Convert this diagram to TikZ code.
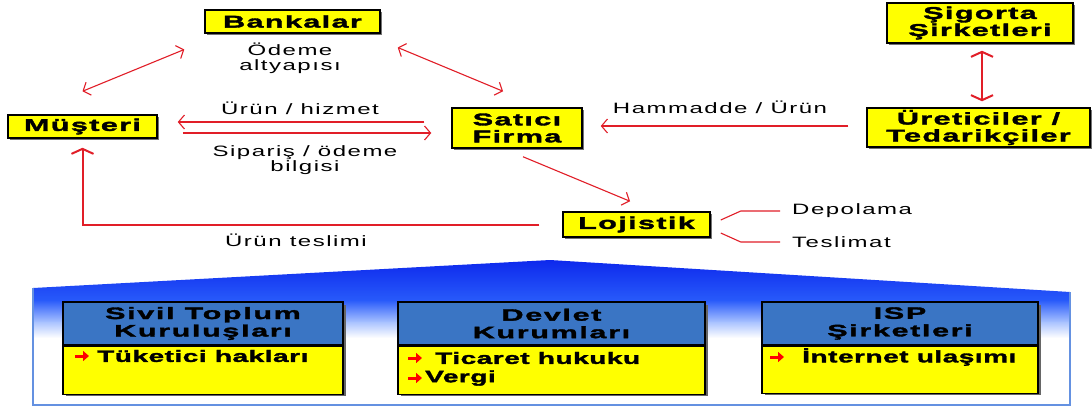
\documentclass[tikz,border=0pt]{standalone}
\usepackage{fontspec}
\usetikzlibrary{arrows.meta,shadows,calc}
\newfontfamily\boxfam{Liberation Sans}[UprightFont=* Bold,FakeStretch=1.8,LetterSpace=8,FakeBold=2]
\newfontfamily\botfam{Liberation Sans}[UprightFont=* Bold,FakeStretch=1.7,LetterSpace=3,FakeBold=2]
\newfontfamily\hdrfam{Liberation Sans}[UprightFont=* Bold,FakeStretch=1.85,LetterSpace=10,FakeBold=2]
\newfontfamily\lblfam{Liberation Sans}[FakeStretch=1.6,LetterSpace=10]
\definecolor{arrred}{RGB}{225,30,40}
\definecolor{boxyel}{RGB}{255,255,0}
\definecolor{hdrblue}{RGB}{58,117,196}
\definecolor{pdark}{RGB}{10,35,235}
\definecolor{pmid}{RGB}{40,90,250}
\definecolor{plight}{RGB}{170,195,255}
\definecolor{pborder}{RGB}{100,145,225}
\tikzset{
  ybox/.style={draw=black, line width=1.5pt, fill=boxyel, inner sep=0pt, align=center,
    font=\fontsize{17}{17}\boxfam,
    drop shadow={shadow xshift=2pt,shadow yshift=-2pt,fill=black!55,opacity=1}},
  lbl/.style={font=\fontsize{15}{15}\lblfam, align=center, inner sep=0pt, text=black},
  conn/.style={draw=arrred, line width=1.1pt},
  dbl/.style={conn, {Straight Barb[length=6pt,width=14pt]}-{Straight Barb[length=6pt,width=14pt]}},
  one/.style={conn, -{Straight Barb[length=6pt,width=14pt]}},
  thickone/.style={draw=arrred, line width=2pt, -{Straight Barb[length=5pt,width=22pt]}},
  thickdbl/.style={draw=arrred, line width=2pt, {Straight Barb[length=5pt,width=22pt]}-{Straight Barb[length=5pt,width=22pt]}},
  hdr/.style={draw=black, line width=1.5pt, fill=hdrblue, inner sep=0pt, align=center,
    font=\fontsize{16.5}{17.5}\hdrfam},
  body/.style={draw=black, line width=1.5pt, fill=boxyel, inner sep=0pt},
  item/.style={anchor=west, inner sep=0pt, font=\fontsize{16.5}{17}\botfam},
  bul/.style={draw=red, line width=3pt, -{Triangle[length=6pt,width=10pt]}},
  bshadow/.style={fill=black!60}
}
\begin{document}
\begin{tikzpicture}[x=1pt,y=-1pt]
\useasboundingbox (0,0) rectangle (1092,408);
\fill[white] (0,0) rectangle (1092,408);

% bottom panel
\fill[white] (33,288) -- (550,260) -- (1070,292) -- (1070,405) -- (33,405) -- cycle;
\begin{scope}
  \clip (33,288) -- (550,260) -- (1070,292) -- (1070,405) -- (33,405) -- cycle;
  \shade[top color=pdark,bottom color=pmid] (30,255) rectangle (1075,300.5);
  \shade[top color=pmid,bottom color=plight] (30,300) rectangle (1075,322.5);
  \shade[top color=plight,bottom color=white] (30,322) rectangle (1075,338);
\end{scope}
\draw[pborder, line width=1.2pt] (33,288) -- (33,405) -- (1070,405) -- (1070,292);

% bottom boxes
\fill[bshadow] (66,305) rectangle (346,396);
\fill[bshadow] (401,305) rectangle (708,396);
\fill[bshadow] (765,305) rectangle (1041,395);
\node[hdr, minimum width=280pt, minimum height=43pt] (sivh) at (203,323.5) {Sivil Toplum\\Kuruluşları};
\node[body, minimum width=280pt, minimum height=48pt, anchor=north] (sivb) at (sivh.south) {};
\node[hdr, minimum width=307pt, minimum height=43pt] (devh) at (551.5,323.5) {Devlet\\Kurumları};
\node[body, minimum width=307pt, minimum height=48pt, anchor=north] (devb) at (devh.south) {};
\node[hdr, minimum width=276pt, minimum height=43pt] (isph) at (900,323.5) {ISP\\Şirketleri};
\node[body, minimum width=276pt, minimum height=47pt, anchor=north] (ispb) at (isph.south) {};

\draw[bul] (75,356) -- (89,356);
\node[item] (siv1) at (97,356) {Tüketici hakları};
\draw[bul] (408,358) -- (422,358);
\node[item] (dev1) at (435,358) {Ticaret hukuku};
\draw[bul] (408,378) -- (422,378);
\node[item] (dev2) at (425,378) {Vergi};
\draw[bul] (770,357) -- (784,357);
\node[item] (isp1) at (802,357) {İnternet ulaşımı};

% top nodes
\node[ybox, minimum width=175pt, minimum height=23pt] (bank) at (292.5,21.5) {Bankalar};
\node[ybox, minimum width=149pt, minimum height=23pt] (must) at (82.5,126.5) {Müşteri};
\node[ybox, minimum width=130pt, minimum height=40pt] (sat) at (517,128) {Satıcı\\Firma};
\node[ybox, minimum width=186pt, minimum height=40pt] (sig) at (980,23) {Şigorta\\Şirketleri};
\node[ybox, minimum width=223pt, minimum height=39pt] (ure) at (978.5,127.5) {Üreticiler /\\Tedarikçiler};
\node[ybox, minimum width=147pt, minimum height=25pt] (loj) at (636.5,224.5) {Lojistik};

% labels
\node[lbl] (odeme) at (290,58) {Ödeme\\altyapısı};
\node[lbl] (urunh) at (300,108) {Ürün / hizmet};
\node[lbl] (sipar) at (305,160) {Sipariş / ödeme\\bilgisi};
\node[lbl] (hamm) at (720,107) {Hammadde / Ürün};
\node[lbl] (urunt) at (296,240) {Ürün teslimi};
\node[lbl, anchor=west] (depo) at (792,211) {Depolama};
\node[lbl, anchor=west] (tesl) at (792,242) {Teslimat};

% connectors
\draw[dbl] ($(must.north)+(0,-23)$) -- ($(bank.west)+(-20,28)$);
\draw[dbl] ($(bank.east)+(17,26)$) -- ($(sat.north)+(-14,-16)$);
\draw[one] ($(sat.west)+(-27,-6)$) -- ($(must.east)+(20,-4.5)$);
\draw[one] ($(must.east)+(25,6.5)$) -- ($(sat.west)+(-20,5)$);
\draw[one] ($(ure.west)+(-18,-1.5)$) -- ($(sat.east)+(18,-2)$);
\draw[thickdbl] ($(sig.south)+(2,7)$) -- ($(ure.north)+(3.5,-6)$);
\draw[one] ($(sat.south)+(6,8)$) -- ($(loj.north)+(-6.5,-10)$);
\draw[thickone] ($(loj.west)+(-23,0)$) -| ($(must.south)+(0,9)$);
\draw[conn] ($(loj.east)+(10,-4.5)$) -- ++(20,-9) -- ($(depo.west)+(-12,0)$);
\draw[conn] ($(loj.east)+(10,8.5)$) -- ++(20,9) -- ($(tesl.west)+(-12,0)$);
\end{tikzpicture}
\end{document}
